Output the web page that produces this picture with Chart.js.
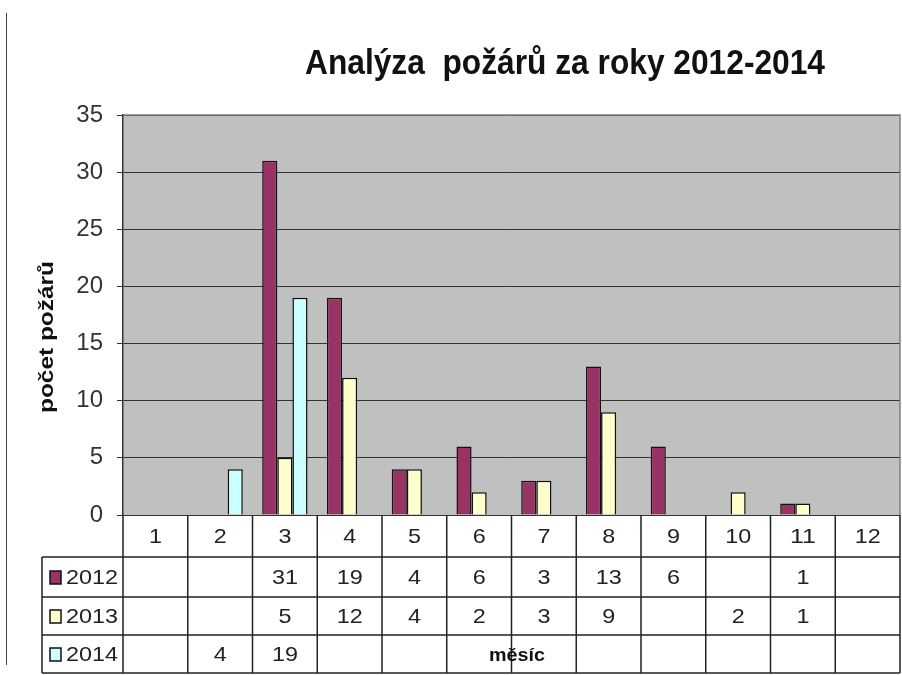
<!DOCTYPE html>
<html>
<head>
<meta charset="utf-8">
<script src="https://cdn.jsdelivr.net/npm/chart.js@4.4.1/dist/chart.umd.min.js"></script>
<style>
  html, body { margin: 0; padding: 0; background: #fff; }
  #wrap { position: relative; width: 902px; height: 675px; }
</style>
</head>
<body>
<div id="wrap"><canvas id="graficoPozary" width="902" height="675"></canvas></div>
<script>
// data
var mesice = ['1', '2', '3', '4', '5', '6', '7', '8', '9', '10', '11', '12'];
var roky = ['2012', '2013', '2014'];
var pozary2012 = [null, null, 31, 19, 4, 6, 3, 13, 6, null, 1, null];
var pozary2013 = [null, null, 5, 12, 4, 2, 3, 9, null, 2, 1, null];
var pozary2014 = [null, 4, 19, null, null, null, null, null, null, null, null, null];
var osaY = [0, 5, 10, 15, 20, 25, 30, 35];

var nadpis = 'Analýza  požárů za roky 2012-2014';
var popisY = 'počet požárů';
var popisX = 'měsíc';

var FONT = '"Liberation Sans", Arial, sans-serif';
Chart.defaults.font.family = FONT;

// draw text squeezed / stretched to a given width
function textFit(ctx, txt, x, y, w, font, align) {
    ctx.save();
    ctx.font = font;
    var m = ctx.measureText(txt).width;
    var s = w / m;
    ctx.translate(x, y);
    ctx.scale(s, 1);
    ctx.textAlign = align || 'center';
    ctx.fillText(txt, 0, 0);
    ctx.restore();
}

var tabulka = {
    id: 'tabulka',
    beforeDraw: function (chart) {
        var ctx = chart.ctx, a = chart.chartArea;
        ctx.save();
        ctx.fillStyle = '#c0c0c0';
        ctx.fillRect(a.left, a.top, a.right - a.left, a.bottom - a.top);
        ctx.restore();
    },
    afterDraw: function (chart) {
        var ctx = chart.ctx, a = chart.chartArea, xs = chart.scales.x;
        var cw = (a.right - a.left) / mesice.length;
        var rowY = [a.bottom, a.bottom + 42, a.bottom + 82, a.bottom + 120, a.bottom + 158];
        var leftCol = 42;

        ctx.save();
        // plot frame
        ctx.strokeStyle = '#808080';
        ctx.lineWidth = 1.5;
        ctx.beginPath();
        ctx.moveTo(a.left, a.top);
        ctx.lineTo(a.right, a.top);
        ctx.lineTo(a.right, a.bottom);
        ctx.stroke();

        // table grid
        ctx.strokeStyle = '#222';
        ctx.lineWidth = 1.5;
        ctx.beginPath();
        for (var i = 0; i <= mesice.length; i++) {
            var x = a.left + i * cw;
            ctx.moveTo(x, a.bottom);
            ctx.lineTo(x, rowY[4]);
        }
        ctx.moveTo(leftCol, rowY[1]);
        ctx.lineTo(leftCol, rowY[4]);
        for (var r = 1; r <= 4; r++) {
            ctx.moveTo(leftCol, rowY[r]);
            ctx.lineTo(a.right, rowY[r]);
        }
        ctx.stroke();

        // month row
        ctx.fillStyle = '#222';
        ctx.textBaseline = 'middle';
        mesice.forEach(function (m, i) {
            var x = xs.getPixelForValue(i);
            textFit(ctx, m, x, (rowY[0] + rowY[1]) / 2 + 1, m.length * 13, '21px ' + FONT);
        });

        // value rows + legend keys
        chart.data.datasets.forEach(function (ds, d) {
            var cy = (rowY[d + 1] + rowY[d + 2]) / 2 + 1;
            ds.data.forEach(function (v, i) {
                if (v === null) return;
                var s = String(v);
                textFit(ctx, s, xs.getPixelForValue(i), cy, s.length * 13, '21px ' + FONT);
            });
            ctx.fillStyle = ds.backgroundColor;
            ctx.fillRect(50, cy - 7, 11, 13);
            ctx.strokeStyle = '#111';
            ctx.lineWidth = 1.5;
            ctx.strokeRect(50, cy - 7, 11, 13);
            ctx.fillStyle = '#222';
            textFit(ctx, ds.label, 66, cy, 52, '21px ' + FONT, 'left');
        });

        // axis titles
        ctx.fillStyle = '#111';
        textFit(ctx, popisX, 517, rowY[3] + 21, 56, 'bold 19px ' + FONT);
        ctx.save();
        ctx.translate(47, 337);
        ctx.rotate(-Math.PI / 2);
        textFit(ctx, popisY, 0, 0, 152, 'bold 21px ' + FONT);
        ctx.restore();

        // title
        ctx.textBaseline = 'alphabetic';
        textFit(ctx, nadpis, 565, 74, 520, 'bold 35px ' + FONT);

        // slide edge line
        ctx.strokeStyle = '#444';
        ctx.lineWidth = 1;
        ctx.beginPath();
        ctx.moveTo(6.5, 13);
        ctx.lineTo(6.5, 665);
        ctx.stroke();
        ctx.restore();
    }
};

document.addEventListener('DOMContentLoaded', function () {
    var ctx = document.getElementById('graficoPozary').getContext('2d');
    var myChart = new Chart(ctx, {
        type: 'bar',
        data: {
            labels: mesice,
            datasets: [{
                label: roky[0],
                backgroundColor: '#993366',
                borderColor: '#111',
                borderWidth: 1.5,
                data: pozary2012
            }, {
                label: roky[1],
                backgroundColor: '#ffffcc',
                borderColor: '#111',
                borderWidth: 1.5,
                data: pozary2013
            }, {
                label: roky[2],
                backgroundColor: '#ccffff',
                borderColor: '#111',
                borderWidth: 1.5,
                data: pozary2014
            }]
        },
        options: {
            responsive: false,
            animation: false,
            layout: { padding: { left: 0, top: 115, right: 2, bottom: 160 } },
            datasets: { bar: { categoryPercentage: 0.7, barPercentage: 1 } },
            plugins: {
                legend: { display: false },
                tooltip: { enabled: false }
            },
            scales: {
                x: { display: false },
                y: {
                    min: 0,
                    max: 35,
                    afterBuildTicks: function (scale) {
                        scale.ticks = osaY.map(function (v) { return { value: v }; });
                    },
                    afterFit: function (scale) { scale.width = 123; },
                    grid: { color: '#333', lineWidth: 1, tickLength: 6, tickColor: '#333' },
                    border: { color: '#333', width: 1.5 },
                    ticks: { color: '#333', padding: 14, font: { size: 24 } }
                }
            }
        },
        plugins: [tabulka]
    });
});
</script>
</body>
</html>
